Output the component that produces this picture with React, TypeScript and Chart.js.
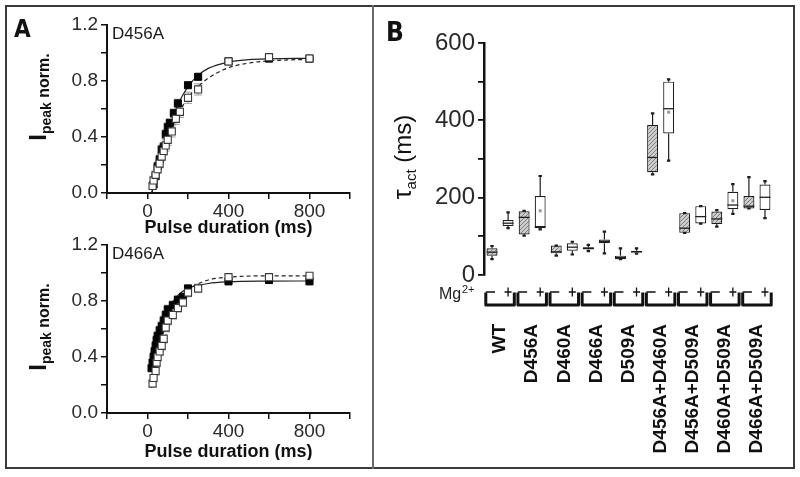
import React, { useEffect, useRef } from 'react';
import { Chart, registerables } from 'chart.js';

Chart.register(...registerables);

const SANS = '"Liberation Sans", Arial, Helvetica, sans-serif';
const COND = '"Liberation Sans Narrow", "DejaVu Sans Condensed", "Liberation Sans", sans-serif';
Chart.defaults.font.family = SANS;

// ---------- Panel A (top): D456A ----------
const d456aFilledX = [30, 40, 50, 60, 70, 80, 90, 100, 110, 130, 150, 200, 250, 400, 600, 800];
const d456aFilledY = [0.06, 0.12, 0.19, 0.24, 0.31, 0.33, 0.42, 0.47, 0.5, 0.57, 0.64, 0.77, 0.83, 0.94, 0.96, 0.96];
const d456aFilledErr = [0.02, 0.02, 0.03, 0.03, 0.03, 0.03, 0.03, 0.03, 0.03, 0.03, 0.03, 0.02, 0.02, 0.02, 0.01, 0.01];
const d456aOpenX = [25, 30, 40, 50, 60, 70, 80, 90, 100, 120, 140, 160, 200, 250, 400, 600, 800];
const d456aOpenY = [0.05, 0.09, 0.13, 0.17, 0.21, 0.26, 0.3, 0.34, 0.38, 0.44, 0.53, 0.58, 0.68, 0.74, 0.94, 0.97, 0.96];
const d456aOpenErr = [0.02, 0.02, 0.02, 0.03, 0.03, 0.03, 0.03, 0.04, 0.04, 0.04, 0.04, 0.04, 0.04, 0.04, 0.02, 0.01, 0.01];
const d456aFitX = [20, 50, 75, 100, 150, 200, 250, 300, 400, 500, 600, 800];
const d456aFitSolidY = [0.0, 0.15, 0.29, 0.43, 0.63, 0.76, 0.84, 0.89, 0.935, 0.952, 0.958, 0.962];
const d456aFitDashY = [0.0, 0.12, 0.25, 0.38, 0.56, 0.68, 0.76, 0.82, 0.895, 0.928, 0.944, 0.955];

// ---------- Panel A (bottom): D466A ----------
const d466aFilledX = [20, 25, 30, 35, 40, 45, 50, 60, 70, 80, 90, 100, 125, 150, 175, 200, 400, 600, 800];
const d466aFilledY = [0.32, 0.36, 0.4, 0.44, 0.48, 0.52, 0.55, 0.59, 0.62, 0.66, 0.7, 0.74, 0.77, 0.81, 0.83, 0.89, 0.94, 0.95, 0.94];
const d466aFilledErr = [0.02, 0.02, 0.03, 0.03, 0.03, 0.03, 0.03, 0.03, 0.03, 0.03, 0.03, 0.03, 0.03, 0.02, 0.02, 0.02, 0.01, 0.01, 0.01];
const d466aOpenX = [25, 30, 40, 45, 50, 60, 70, 80, 90, 100, 125, 150, 175, 200, 250, 400, 600, 800];
const d466aOpenY = [0.21, 0.25, 0.3, 0.36, 0.4, 0.44, 0.48, 0.53, 0.61, 0.66, 0.7, 0.75, 0.79, 0.86, 0.89, 0.97, 0.97, 0.98];
const d466aOpenErr = [0.02, 0.02, 0.03, 0.03, 0.03, 0.03, 0.03, 0.03, 0.03, 0.03, 0.03, 0.03, 0.03, 0.03, 0.03, 0.01, 0.01, 0.01];
const d466aFitX = [20, 40, 60, 80, 100, 150, 200, 300, 400, 600, 800];
const d466aFitSolidY = [0.3, 0.49, 0.6, 0.68, 0.74, 0.84, 0.89, 0.925, 0.937, 0.942, 0.943];
const d466aFitDashY = [0.18, 0.36, 0.5, 0.6, 0.67, 0.8, 0.88, 0.95, 0.97, 0.98, 0.98];

// ---------- Panel B: box plots of tau_act ----------
const groupLabels = ['WT', 'D456A', 'D460A', 'D466A', 'D509A', 'D456A+D460A', 'D456A+D509A', 'D460A+D509A', 'D466A+D509A'];
const mgConditions = ['−', '+'];
const boxQ1 = [50, 127, 105, 121, 56, 63, 66, 82, 41, 58, 266, 366, 109, 133, 132, 170, 172, 168];
const boxQ3 = [69, 142, 165, 204, 76, 82, 72, 92, 50, 63, 388, 500, 160, 178, 164, 215, 204, 234];
const boxMedian = [59, 134, 149, 125, 60, 72, 69, 87, 45, 60, 304, 430, 121, 151, 145, 181, 178, 201];
const boxMin = [41, 121, 102, 118, 50, 53, 62, 56, 41, 55, 260, 296, 109, 133, 125, 158, 172, 147];
const boxMax = [75, 162, 166, 256, 76, 86, 78, 112, 69, 69, 418, 506, 160, 178, 168, 235, 253, 243];
const boxMean = [null, null, null, 166, null, null, null, null, null, null, null, 421, null, null, null, 192, null, null];
const yTicksB = [0, 200, 400, 600];

type Part = { text: string; font: string; dy?: number };

function drawRich(ctx: CanvasRenderingContext2D, x: number, y: number, rot: number, parts: Part[]) {
  ctx.save();
  ctx.translate(x, y);
  ctx.rotate(rot);
  ctx.textBaseline = 'alphabetic';
  ctx.textAlign = 'left';
  let total = 0;
  for (const p of parts) {
    ctx.font = p.font;
    total += ctx.measureText(p.text).width;
  }
  let cx = -total / 2;
  for (const p of parts) {
    ctx.font = p.font;
    ctx.fillText(p.text, cx, p.dy || 0);
    cx += ctx.measureText(p.text).width;
  }
  ctx.restore();
}

function makeHatch(ctx: CanvasRenderingContext2D): CanvasPattern | string {
  const c = document.createElement('canvas');
  c.width = 4;
  c.height = 4;
  const g = c.getContext('2d');
  if (!g) return '#bdbdbd';
  g.fillStyle = '#cdcdcd';
  g.fillRect(0, 0, 4, 4);
  g.strokeStyle = '#7d7d7d';
  g.lineWidth = 1;
  g.beginPath();
  g.moveTo(0, 4);
  g.lineTo(4, 0);
  g.moveTo(-2, 2);
  g.lineTo(2, -2);
  g.moveTo(2, 6);
  g.lineTo(6, 2);
  g.stroke();
  return ctx.createPattern(c, 'repeat') || '#bdbdbd';
}

type PanelAProps = {
  top: number;
  name: string;
  yTitleCenter: number;
  xTitleY: number;
  filledX: number[];
  filledY: number[];
  filledErr: number[];
  openX: number[];
  openY: number[];
  openErr: number[];
  fitX: number[];
  fitSolidY: number[];
  fitDashY: number[];
  letter?: string;
};

function PanelA(props: PanelAProps) {
  const ref = useRef<HTMLCanvasElement>(null);
  useEffect(() => {
    if (!ref.current) return;
    const p = props;
    const errPlugin = {
      id: 'errbars',
      beforeDatasetsDraw(chart: any) {
        const ctx = chart.ctx;
        const xs = chart.scales.x;
        const ys = chart.scales.y;
        ctx.save();
        ctx.strokeStyle = '#a0a0a0';
        ctx.lineWidth = 1;
        const draw = (X: number[], Y: number[], E: number[]) => {
          X.forEach((xv, i) => {
            const px = xs.getPixelForValue(xv);
            const y1 = ys.getPixelForValue(Y[i] - E[i]);
            const y2 = ys.getPixelForValue(Y[i] + E[i]);
            ctx.beginPath();
            ctx.moveTo(px, y1);
            ctx.lineTo(px, y2);
            ctx.moveTo(px - 4, y1);
            ctx.lineTo(px + 4, y1);
            ctx.moveTo(px - 4, y2);
            ctx.lineTo(px + 4, y2);
            ctx.stroke();
          });
        };
        draw(p.openX, p.openY, p.openErr);
        draw(p.filledX, p.filledY, p.filledErr);
        ctx.restore();
      },
    };
    const textPlugin = {
      id: 'texts',
      afterDraw(chart: any) {
        const ctx = chart.ctx;
        const area = chart.chartArea;
        ctx.save();
        ctx.fillStyle = '#1a1a1a';
        ctx.textBaseline = 'alphabetic';
        ctx.textAlign = 'left';
        ctx.font = `17px ${SANS}`;
        ctx.fillText(p.name, area.left + 5, area.top + 14);
        ctx.textAlign = 'center';
        ctx.font = `bold 18px ${SANS}`;
        ctx.fillStyle = '#111';
        ctx.fillText('Pulse duration (ms)', (area.left + area.right) / 2, p.xTitleY);
        drawRich(ctx, 46, p.yTitleCenter, -Math.PI / 2, [
          { text: 'I', font: `bold 24px ${SANS}` },
          { text: 'peak', font: `bold 14px ${SANS}`, dy: 5 },
          { text: ' norm.', font: `bold 16px ${SANS}`, dy: 3 },
        ]);
        if (p.letter) {
          ctx.textAlign = 'left';
          ctx.font = `bold 24px ${COND}`;
          ctx.fillText(p.letter, 14, 37);
        }
        ctx.restore();
      },
    };
    const toPts = (X: number[], Y: number[]) => X.map((x, i) => ({ x, y: Y[i] }));
    const chart = new Chart(ref.current, {
      type: 'scatter',
      data: {
        datasets: [
          {
            data: toPts(p.openX, p.openY),
            pointStyle: 'rect',
            pointRadius: 5,
            backgroundColor: '#ffffff',
            borderColor: '#3a3a3a',
            borderWidth: 1.1,
          },
          {
            data: toPts(p.filledX, p.filledY),
            pointStyle: 'rect',
            pointRadius: 5,
            backgroundColor: '#050505',
            borderColor: '#050505',
            borderWidth: 1,
          },
          {
            data: toPts(p.fitX, p.fitSolidY),
            showLine: true,
            pointRadius: 0,
            borderColor: '#222',
            borderWidth: 1.2,
            cubicInterpolationMode: 'monotone',
          },
          {
            data: toPts(p.fitX, p.fitDashY),
            showLine: true,
            pointRadius: 0,
            borderColor: '#222',
            borderWidth: 1.2,
            borderDash: [4, 3],
            cubicInterpolationMode: 'monotone',
          },
        ],
      } as any,
      options: {
        animation: false,
        responsive: false,
        events: [],
        plugins: { legend: { display: false }, tooltip: { enabled: false } },
        layout: { padding: { left: 0, top: 25, right: 22, bottom: 0 } },
        scales: {
          x: {
            type: 'linear',
            min: -200,
            max: 1000,
            ticks: {
              stepSize: 200,
              autoSkip: false,
              maxRotation: 0,
              padding: 1,
              color: '#2a2a2a',
              font: { size: 19, family: SANS },
              callback: (v: any) => ([0, 400, 800].includes(Math.round(v)) ? String(Math.round(v)) : ''),
            },
            grid: { drawOnChartArea: false, drawTicks: true, tickLength: 6, color: '#111', lineWidth: 1.5 },
            border: { color: '#111', width: 2 },
            afterFit: (s: any) => {
              s.height = 47;
              s.paddingLeft = 0;
              s.paddingRight = 0;
            },
          },
          y: {
            type: 'linear',
            min: 0,
            max: 1.2,
            ticks: {
              stepSize: 0.2,
              autoSkip: false,
              padding: 3,
              color: '#2a2a2a',
              font: { size: 19, family: SANS },
              callback: (v: any) => {
                const k = Math.round(v * 10);
                return k % 4 === 0 ? (k / 10).toFixed(1) : '';
              },
            },
            grid: { drawOnChartArea: false, drawTicks: true, tickLength: 6, color: '#111', lineWidth: 1.5 },
            border: { color: '#111', width: 2 },
            afterFit: (s: any) => {
              s.width = 107;
              s.paddingTop = 0;
              s.paddingBottom = 0;
            },
          },
        },
      } as any,
      plugins: [errPlugin, textPlugin],
    });
    return () => chart.destroy();
  }, []);
  return (
    <canvas
      ref={ref}
      width={372}
      height={240}
      style={{ position: 'absolute', left: 0, top: props.top, width: 372, height: 240 }}
    />
  );
}

function PanelB() {
  const ref = useRef<HTMLCanvasElement>(null);
  useEffect(() => {
    if (!ref.current) return;
    const ctx0 = ref.current.getContext('2d') as CanvasRenderingContext2D;
    const hatch = makeHatch(ctx0);
    const OX = 374;
    const boxPlugin = {
      id: 'boxes',
      afterDatasetsDraw(chart: any) {
        const ctx = chart.ctx;
        const ys = chart.scales.y;
        const meta = chart.getDatasetMeta(0);
        ctx.save();
        ctx.strokeStyle = '#1e1e1e';
        meta.data.forEach((bar: any, i: number) => {
          const x = bar.x;
          const w = bar.width;
          const yq1 = ys.getPixelForValue(boxQ1[i]);
          const yq3 = ys.getPixelForValue(boxQ3[i]);
          const ymin = ys.getPixelForValue(boxMin[i]);
          const ymax = ys.getPixelForValue(boxMax[i]);
          const ymed = ys.getPixelForValue(boxMedian[i]);
          ctx.lineWidth = 1.2;
          ctx.beginPath();
          ctx.moveTo(x, yq3);
          ctx.lineTo(x, ymax);
          ctx.moveTo(x, yq1);
          ctx.lineTo(x, ymin);
          ctx.stroke();
          ctx.lineWidth = 2.2;
          ctx.beginPath();
          ctx.moveTo(x - 1.7, ymax);
          ctx.lineTo(x + 1.7, ymax);
          ctx.moveTo(x - 1.7, ymin);
          ctx.lineTo(x + 1.7, ymin);
          ctx.stroke();
          ctx.lineWidth = 1.3;
          ctx.beginPath();
          ctx.moveTo(x - w / 2, ymed);
          ctx.lineTo(x + w / 2, ymed);
          ctx.stroke();
          const m = boxMean[i];
          if (m !== null && m !== undefined) {
            const ym = ys.getPixelForValue(m);
            ctx.fillStyle = '#9a9a9a';
            ctx.fillRect(x - 1.5, ym - 1.5, 3, 3);
          }
        });
        ctx.restore();
      },
    };
    const labelPlugin = {
      id: 'labels',
      afterDraw(chart: any) {
        const ctx = chart.ctx;
        const xs = chart.scales.x;
        ctx.save();
        ctx.fillStyle = '#111';
        // panel letter
        ctx.textAlign = 'left';
        ctx.textBaseline = 'alphabetic';
        ctx.font = `bold 26px ${COND}`;
        ctx.fillText('B', 386 - OX, 41);
        // y title
        drawRich(ctx, 411 - OX, 157, -Math.PI / 2, [
          { text: 'τ', font: `25px ${SANS}` },
          { text: 'act', font: `15px ${SANS}`, dy: 5 },
          { text: ' (ms)', font: `24px ${SANS}` },
        ]);
        // Mg2+
        ctx.fillStyle = '#222';
        ctx.textAlign = 'left';
        ctx.font = `16px ${SANS}`;
        ctx.fillText('Mg', 439 - OX, 299);
        ctx.font = `11px ${SANS}`;
        ctx.fillText('2+', 462 - OX, 293);
        // brackets
        const topY = 292.5;
        const botY = 305;
        for (let g = 0; g < groupLabels.length; g++) {
          const xa = xs.getPixelForValue(2 * g);
          const xb = xs.getPixelForValue(2 * g + 1);
          const slot = xb - xa;
          const left = xa - slot / 2 + 1.8;
          const right = xb + slot / 2 - 1.8;
          ctx.strokeStyle = '#111';
          ctx.lineWidth = 3;
          ctx.lineJoin = 'round';
          ctx.beginPath();
          ctx.moveTo(left, topY);
          ctx.lineTo(left, botY);
          ctx.lineTo(right, botY);
          ctx.lineTo(right, topY);
          ctx.stroke();
          ctx.lineWidth = 1.3;
          ctx.beginPath();
          // minus sign joined to left edge
          ctx.moveTo(left, topY - 0.5);
          ctx.lineTo(xa + 3, topY - 0.5);
          // plus sign
          ctx.moveTo(xb - 3.5, topY - 0.5);
          ctx.lineTo(xb + 3.5, topY - 0.5);
          ctx.moveTo(xb, topY - 5);
          ctx.lineTo(xb, topY + 4);
          ctx.stroke();
          // group label (rotated)
          ctx.save();
          ctx.translate((xa + xb) / 2, 324);
          ctx.rotate(-Math.PI / 2);
          ctx.textAlign = 'right';
          ctx.textBaseline = 'middle';
          ctx.font = `bold 19px ${SANS}`;
          ctx.fillStyle = '#111';
          ctx.fillText(groupLabels[g], 0, 0);
          ctx.restore();
        }
        ctx.restore();
      },
    };
    const labels: string[] = [];
    groupLabels.forEach((g) => mgConditions.forEach((m) => labels.push(`${g} ${m}`)));
    const chart = new Chart(ref.current, {
      type: 'bar',
      data: {
        labels,
        datasets: [
          {
            data: boxQ1.map((q, i) => [q, boxQ3[i]]),
            backgroundColor: boxQ1.map((_, i) => (i % 2 === 0 ? hatch : '#ffffff')),
            borderColor: '#1e1e1e',
            borderWidth: 1.2,
            borderSkipped: false,
            barPercentage: 0.68,
            categoryPercentage: 1,
          },
        ],
      } as any,
      options: {
        animation: false,
        responsive: false,
        events: [],
        plugins: { legend: { display: false }, tooltip: { enabled: false } },
        layout: { padding: { left: 0, top: 43, right: 21, bottom: 195 } },
        scales: {
          x: { display: false, offset: true },
          y: {
            min: 0,
            max: 600,
            ticks: {
              stepSize: 100,
              autoSkip: false,
              padding: 3,
              color: '#2a2a2a',
              font: { size: 24, family: SANS },
              callback: (v: any) => (yTicksB.includes(Math.round(v)) ? String(Math.round(v)) : ''),
            },
            grid: { drawOnChartArea: false, drawTicks: true, tickLength: 6, color: '#111', lineWidth: 1.8 },
            border: { color: '#111', width: 2.5 },
            afterFit: (s: any) => {
              s.width = 484 - OX;
              s.paddingTop = 0;
              s.paddingBottom = 0;
            },
          },
        },
      } as any,
      plugins: [boxPlugin, labelPlugin],
    });
    return () => chart.destroy();
  }, []);
  return (
    <canvas ref={ref} width={420} height={470} style={{ position: 'absolute', left: 374, top: 0, width: 420, height: 470 }} />
  );
}

export default function App() {
  return (
    <div style={{ position: 'absolute', left: 0, top: 0, width: 800, height: 477, background: '#fff', overflow: 'hidden' }}>
      <div
        style={{
          position: 'absolute',
          left: 5,
          top: 5,
          width: 790,
          height: 464,
          boxSizing: 'border-box',
          border: '2px solid #3a3a3a',
        }}
      />
      <div style={{ position: 'absolute', left: 372, top: 5, width: 2, height: 464, background: '#6a6a6a' }} />
      <PanelA
        top={0}
        name="D456A"
        letter="A"
        yTitleCenter={97}
        xTitleY={233}
        filledX={d456aFilledX}
        filledY={d456aFilledY}
        filledErr={d456aFilledErr}
        openX={d456aOpenX}
        openY={d456aOpenY}
        openErr={d456aOpenErr}
        fitX={d456aFitX}
        fitSolidY={d456aFitSolidY}
        fitDashY={d456aFitDashY}
      />
      <PanelA
        top={220}
        name="D466A"
        yTitleCenter={107}
        xTitleY={237}
        filledX={d466aFilledX}
        filledY={d466aFilledY}
        filledErr={d466aFilledErr}
        openX={d466aOpenX}
        openY={d466aOpenY}
        openErr={d466aOpenErr}
        fitX={d466aFitX}
        fitSolidY={d466aFitSolidY}
        fitDashY={d466aFitDashY}
      />
      <PanelB />
    </div>
  );
}
